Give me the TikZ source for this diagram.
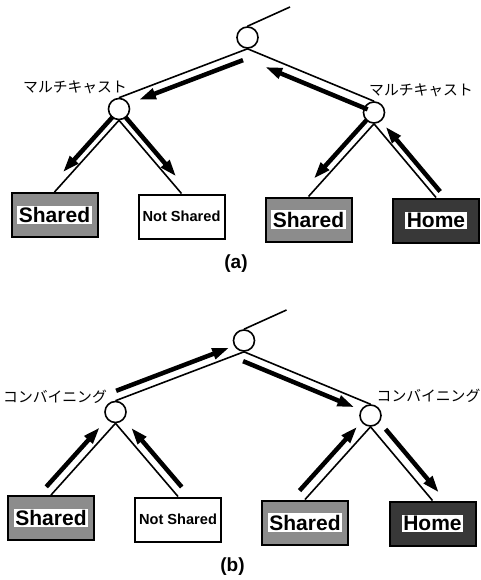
\documentclass[tikz,border=0pt]{standalone}
\usepackage{fontspec}
\setsansfont{Liberation Sans}
\newfontfamily\cjk{Noto Sans CJK JP}
\usetikzlibrary{arrows.meta,calc}

% text set on a white patch inside the shaded boxes
\newcommand{\onwhite}[1]{{\setlength{\fboxsep}{1.5pt}\colorbox{white}{#1}}}

\begin{document}
\begin{tikzpicture}[x=1pt,y=-1pt,
		hub/.style={circle,draw,line width=1.6pt,minimum size=21pt,inner sep=0pt},
		cache/.style={draw,line width=2pt,minimum width=86pt,minimum height=44pt,inner sep=0pt,
			font=\sffamily\bfseries\fontsize{21}{21}\selectfont},
		shared/.style={cache,fill=black!45},
		home/.style={cache,fill=black!78},
		link/.style={line width=1.6pt},
		flow/.style={line width=4.5pt,-{Triangle[length=17pt,width=10.5pt]}},
		jp/.style={font=\cjk\fontsize{14.8}{15}\selectfont,inner sep=0pt}]
	\useasboundingbox (0,0) rectangle (481,580);

	% the same tree twice, (a) on top and (b) below
	\foreach \dx/\dy/\p/\word/\lx/\ly/\rx/\ry in
	{0/0/a/マルチキャスト/127/87/369/90,
		-3.5/303/b/コンバイニング/110.5/94/380/93}
	{
		\begin{scope}[shift={(\dx,\dy)}]
			\node[hub] (root\p) at (247.5,37.5) {};
			\node[hub] (lm\p) at (119,109) {};
			\node[hub] (rm\p) at (374,112.5) {};
			\coordinate (up\p) at (290,7);

			\node[shared] (sl\p) at (54.5,215) {\onwhite{Shared}};
			\node[cache,font=\sffamily\bfseries\fontsize{14.6}{15}\selectfont]
			(ns\p) at (181.5,216.5) {Not Shared};
			\node[shared] (sr\p) at (308.5,219.5) {\onwhite{Shared}};
			\node[home] (home\p) at (436,220.5) {\onwhite{Home}};

			\draw[link] (root\p.north) -- (up\p);
			\draw[link] (root\p.south) -- (lm\p.north);
			\draw[link] (root\p.south) -- (rm\p.north);
			\draw[link] (lm\p.south) -- (sl\p.north);
			\draw[link] (lm\p.south) -- (ns\p.north);
			\draw[link] (rm\p.south) -- (sr\p.north);
			\draw[link] (rm\p.south) -- (home\p.north);

			\node[jp,anchor=east] (ll\p) at (\lx,\ly) {\word};
			\node[jp,anchor=west] (rl\p) at (\rx,\ry) {\word};
			\node[font=\sffamily\bfseries\fontsize{19}{19}\selectfont]
			(cap\p) at (236,264) {(\p)};
		\end{scope}
	}

	% message flow beside each link
	\foreach \s/\e/\f/\t/\a/\o in
	{roota.south/lma.north/0.06/0.87/90/9pt,
		roota.south/rma.north/0.98/0.17/-90/10pt,
		lma.south/sla.north/0.02/0.79/-90/7pt,
		lma.south/nsa.north/0.02/0.83/90/7pt,
		rma.south/sra.north/0.02/0.83/-90/8pt,
		rma.south/homea.north/0.98/0.1/90/7pt,
		rootb.south/lmb.north/0.97/0.09/-90/9pt,
		rootb.south/rmb.north/0.02/0.9/-90/9pt,
		lmb.south/slb.north/0.97/0.14/-90/9pt,
		lmb.south/nsb.north/0.95/0.14/90/9pt,
		rmb.south/srb.north/0.97/0.09/-90/10pt,
		rmb.south/homeb.north/0.12/0.98/90/10pt}
	{
		\draw[flow] ($(\s)!\f!(\e)!\o!\a:(\e)$) -- ($(\s)!\t!(\e)!\o!\a:(\e)$);
	}
\end{tikzpicture}
\end{document}
